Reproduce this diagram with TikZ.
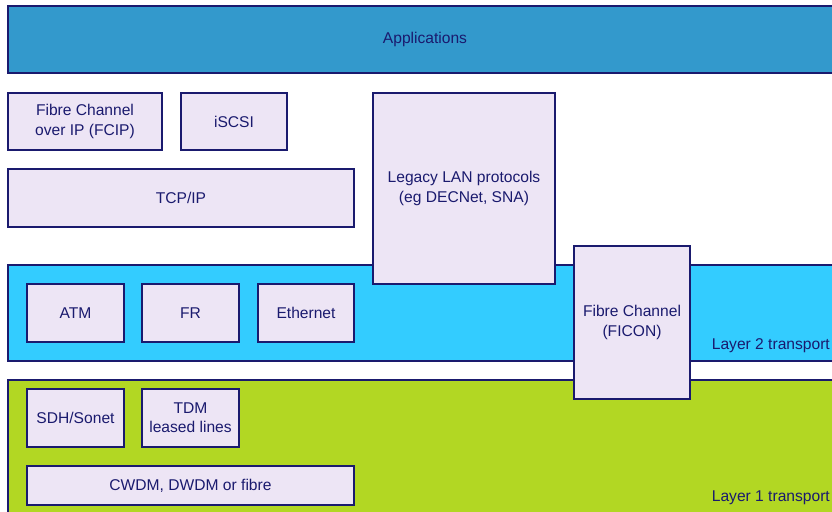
\documentclass[tikz,border=0pt]{standalone}
\usepackage{fontspec}
\setmainfont{Liberation Sans}
\definecolor{navy}{HTML}{1A1A6E}
\definecolor{appblue}{HTML}{3399CC}
\definecolor{ltwo}{HTML}{33CCFF}
\definecolor{lone}{HTML}{B2D723}
\definecolor{boxfill}{HTML}{EDE5F5}
\begin{document}
\begin{tikzpicture}[x=1pt,y=-1pt,
  every node/.style={font=\fontsize{15.6}{19.2}\selectfont, text=navy},
  band/.style={draw=navy, line width=1.4pt, rectangle, inner sep=0pt, anchor=center},
  pbox/.style={draw=navy, line width=1.4pt, fill=boxfill, rectangle, inner sep=0pt, align=center, anchor=center},
  lbl/.style={anchor=east, inner sep=0pt}]
\useasboundingbox (0,0) rectangle (832,511);
\clip (0,0) rectangle (832,511);
% bands
\node[band, fill=appblue, minimum width=834pt, minimum height=67pt] (apps) at (425,39.5) {Applications};
\node[band, fill=ltwo, minimum width=834pt, minimum height=96pt] (l2) at (425,313) {};
\node[band, fill=lone, minimum width=834pt, minimum height=150pt] (l1) at (425,455) {};
\node[lbl] (l2t) at (830,346) {Layer 2 transport};
\node[lbl] (l1t) at (830,498) {Layer 1 transport};
% upper boxes
\node[pbox, minimum width=154pt, minimum height=57pt] (fcip) at (85,121.5) {Fibre Channel\\over IP (FCIP)};
\node[pbox, minimum width=106pt, minimum height=57pt] (iscsi) at (234,121.5) {iSCSI};
\node[pbox, minimum width=346pt, minimum height=58pt] (tcp) at (181,198) {TCP/IP};
\node[pbox, minimum width=182pt, minimum height=191pt] (legacy) at (464,188.5) {Legacy LAN protocols\\(eg DECNet, SNA)};
% layer 2 boxes
\node[pbox, minimum width=97pt, minimum height=58pt] (atm) at (75.5,313) {ATM};
\node[pbox, minimum width=97pt, minimum height=58pt] (fr) at (190.5,313) {FR};
\node[pbox, minimum width=96pt, minimum height=58pt] (eth) at (306,313) {Ethernet};
% fibre channel
\node[pbox, minimum width=116pt, minimum height=153pt] (ficon) at (632,322.5) {Fibre Channel\\(FICON)};
% layer 1 boxes
\node[pbox, minimum width=97pt, minimum height=58pt] (sdh) at (75.5,418) {SDH/Sonet};
\node[pbox, minimum width=97pt, minimum height=58pt] (tdm) at (190.5,418) {TDM\\leased lines};
\node[pbox, minimum width=327pt, minimum height=39pt] (cwdm) at (190.5,485.5) {CWDM, DWDM or fibre};
\end{tikzpicture}
\end{document}
